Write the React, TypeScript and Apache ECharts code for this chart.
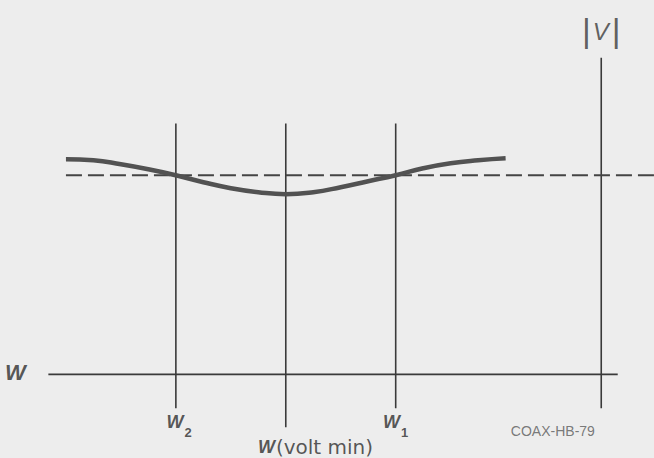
import React, { useEffect, useRef } from "react";
import * as echarts from "echarts";

// Curve |V| versus w (w in units where W2 = -1, W(volt min) = 0, W1 = 1)
const curveW = [-2.0, -1.75, -1.5, -1.25, -1.0, -0.75, -0.5, -0.25, 0, 0.25, 0.5, 0.75, 1.0, 1.25, 1.5, 1.75, 2.0];
const curveV = [2.16, 2.15, 2.11, 2.06, 2.0, 1.93, 1.87, 1.83, 1.81, 1.83, 1.88, 1.94, 2.0, 2.07, 2.12, 2.15, 2.17];

// Reference level (dashed)
const refLevel = 2.0;
const refSpan = [-2.0, 3.35];

// Marker positions on w axis
const markerNames = ["W2", "W(volt min)", "W1"];
const markerW = [-1.0, 0, 1.0];
const markerTop = [2.52, 2.52, 2.52];
const markerBottom = [-0.34, -0.53, -0.34];

// |V| axis and w axis
const vAxisW = 2.87;
const vAxisSpan = [-0.34, 3.18];
const wAxisSpan = [-2.16, 3.02];

const LINE = "#3a3a3a";

export default function App() {
  const ref = useRef<HTMLDivElement>(null);
  useEffect(() => {
    if (!ref.current) return;
    const chart = echarts.init(ref.current, null, { renderer: "svg" });
    const thin = { color: LINE, width: 1.6 };
    const seg = (data: number[][], lineStyle: any, z = 2) => ({
      type: "line",
      data,
      showSymbol: false,
      symbol: "none",
      lineStyle,
      silent: true,
      z,
    });
    const series: any[] = [];
    // w axis
    series.push(seg([[wAxisSpan[0], 0], [wAxisSpan[1], 0]], thin));
    // marker verticals
    markerW.forEach((w, i) => {
      series.push(seg([[w, markerBottom[i]], [w, markerTop[i]]], thin));
    });
    // |V| axis
    series.push(seg([[vAxisW, vAxisSpan[0]], [vAxisW, vAxisSpan[1]]], thin));
    // dashed reference
    series.push(
      seg([[refSpan[0], refLevel], [refSpan[1], refLevel]], { color: "#444", width: 1.8, type: [16, 6] })
    );
    // curve
    series.push({
      type: "line",
      data: curveW.map((w, i) => [w, curveV[i]]),
      smooth: true,
      showSymbol: false,
      symbol: "none",
      lineStyle: { color: "#525252", width: 4.5, cap: "butt" },
      silent: true,
      z: 3,
    });

    const lf = "Liberation Sans";
    const ink = "#2e2e2e";
    const rich = {
      w: { fontFamily: lf, fontStyle: "italic", fontWeight: "bold", fontSize: 18, color: ink, lineHeight: 26, verticalAlign: "top" },
      wm: { fontFamily: lf, fontStyle: "italic", fontWeight: "bold", fontSize: 18, color: ink, lineHeight: 22 },
      wbig: { fontFamily: lf, fontStyle: "italic", fontWeight: "bold", fontSize: 22, color: ink, lineHeight: 24 },
      sub: { fontFamily: lf, fontWeight: "bold", fontSize: 13, color: ink, lineHeight: 26, verticalAlign: "bottom", padding: [0, 0, 0, 1] },
      par: { fontFamily: "DejaVu Sans", fontSize: 20, color: ink, lineHeight: 22, padding: [0, 0, 0, 1] },
      bar: { fontFamily: lf, fontSize: 34, color: "#3a3a3a", lineHeight: 40 },
      v: { fontFamily: lf, fontStyle: "italic", fontSize: 24, color: "#3a3a3a", lineHeight: 40, padding: [3, 3, 0, 2] },
      code: { fontFamily: lf, fontSize: 14, color: "#5a5a5a" },
    };
    const labels = [
      { value: [-2.46, 0.02], text: "{wbig|W}" },
      { value: [-0.97, -0.52], text: "{w|W}{sub|2}" },
      { value: [1.0, -0.52], text: "{w|W}{sub|1}" },
      { value: [0.27, -0.73], text: "{wm|W}{par|(volt min)}" },
      { value: [2.43, -0.57], text: "{code|COAX-HB-79}" },
      { value: [2.87, 3.46], text: "{bar||}{v|V}{bar||}" },
    ];
    series.push({
      type: "scatter",
      symbolSize: 0,
      silent: true,
      data: labels.map((l) => ({
        value: l.value,
        label: { show: true, position: "inside", formatter: l.text, rich },
      })),
      z: 5,
    });

    chart.setOption({
      animation: false,
      backgroundColor: "#ededed",
      grid: { left: 0, right: 0, top: 0, bottom: 0 },
      xAxis: { type: "value", min: -2.6, max: 3.35, show: false, splitLine: { show: false } },
      yAxis: { type: "value", min: -0.84, max: 3.76, show: false, splitLine: { show: false } },
      series,
    });
    return () => chart.dispose();
  }, []);
  return (
    <div
      ref={ref}
      style={{ position: "fixed", left: 0, top: 0, width: 654, height: 458 }}
    />
  );
}
